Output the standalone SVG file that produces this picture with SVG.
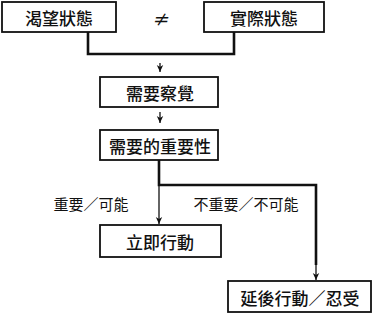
<svg xmlns="http://www.w3.org/2000/svg" width="381" height="315" viewBox="0 0 381 315">
<style>
.box{fill:#fff;stroke:#111;stroke-width:1.8}
.t{font-family:"Noto Sans CJK TC","Noto Sans CJK SC",sans-serif;font-size:17px;font-weight:500;fill:#111;text-anchor:middle;dominant-baseline:central}
.lbl{font-family:"Noto Sans CJK TC","Noto Sans CJK SC",sans-serif;font-size:15px;fill:#111;text-anchor:middle;dominant-baseline:central}
.thick{fill:none;stroke:#111;stroke-width:2.6}
.thin{fill:none;stroke:#111;stroke-width:1.3}
</style>
<defs>
<marker id="ah" markerWidth="8" markerHeight="8" refX="7" refY="4" orient="auto" markerUnits="userSpaceOnUse">
<path d="M0,0.8 L7,4 L0,7.2 L2,4 Z" fill="#111"/>
</marker>
</defs>
<rect width="381" height="315" fill="#fff"/>
<g id="connectors">
<path class="thick" d="M88,32 V54 H234 V32"/>
<path class="thin" d="M160,63 V72" marker-end="url(#ah)"/>
<path class="thin" d="M160,112 V123" marker-end="url(#ah)"/>
<path class="thick" d="M159,160 V185 H316 V265"/>
<path class="thin" d="M159,185 V224" marker-end="url(#ah)"/>
<path class="thin" d="M316,265 V280" marker-end="url(#ah)"/>
<text class="lbl" x="91" y="203">重要／可能</text>
<text class="lbl" x="246" y="203">不重要／不可能</text>
</g>
<g id="desired">
<rect class="box" x="2" y="2" width="114" height="30"/>
<text class="t" x="59" y="17">渴望狀態</text>
</g>
<g id="neq">
<text class="t" x="160" y="18" font-style="italic">≠</text>
</g>
<g id="actual">
<rect class="box" x="204" y="2" width="120" height="30"/>
<text class="t" x="264" y="17">實際狀態</text>
</g>
<g id="awareness">
<rect class="box" x="100" y="77" width="118" height="30"/>
<text class="t" x="160" y="92">需要察覺</text>
</g>
<g id="importance">
<rect class="box" x="100" y="130" width="118" height="30"/>
<text class="t" x="160" y="145">需要的重要性</text>
</g>
<g id="act-now">
<rect class="box" x="100" y="225" width="121" height="32"/>
<text class="t" x="160" y="241">立即行動</text>
</g>
<g id="delay">
<rect class="box" x="228" y="281" width="143" height="31"/>
<text class="t" x="300" y="297">延後行動／忍受</text>
</g>
</svg>
